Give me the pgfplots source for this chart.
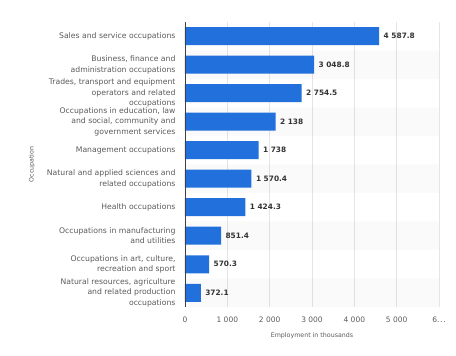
\documentclass[border=0pt]{standalone}
\usepackage{pgfplots}
\pgfplotsset{compat=1.18}
\usepackage{fontspec}
\setmainfont{DejaVu Sans}
\definecolor{barblue}{RGB}{33,112,219}
\definecolor{lbl}{RGB}{90,90,90}
\definecolor{vlbl}{RGB}{51,51,51}
\begin{document}
\begin{tikzpicture}
\useasboundingbox (0pt,0pt) rectangle (456pt,356pt);
\begin{axis}[
  at={(185pt,49pt)}, anchor=south west,
  scale only axis, width=254pt, height=285pt,
  xmin=0, xmax=6000, ymin=-0.5, ymax=9.5, y dir=reverse,
  xtick={0,1000,2000,3000,4000,5000,6000},
  xticklabels={0,1 000,2 000,3 000,4 000,5 000,{6.\kern0.1em.\kern0.1em.}},
  ytick={0,1,2,3,4,5,6,7,8,9},
  yticklabels={
    {Sales and service occupations},
    {Business, finance and\\administration occupations},
    {Trades, transport and equipment\\operators and related\\occupations},
    {Occupations in education, law\\and social, community and\\government services},
    {Management occupations},
    {Natural and applied sciences and\\related occupations},
    {Health occupations},
    {Occupations in manufacturing\\and utilities},
    {Occupations in art, culture,\\recreation and sport},
    {Natural resources, agriculture\\and related production\\occupations}},
  major tick length=0pt,
  xmajorgrids, grid style={draw=black!10, line width=0.6pt},
  axis line style={draw=none},
  x tick label style={font=\fontsize{7.5}{9}\selectfont, color=lbl, yshift=-6pt},
  y tick label style={font=\fontsize{7.7}{10.6}\selectfont, color=lbl, align=right, xshift=-6pt},
  xlabel={Employment in thousands},
  xlabel style={font=\fontsize{6.3}{8}\selectfont, color=lbl, yshift=-4pt},
  ylabel={Occupation},
  ylabel style={font=\fontsize{6.3}{8}\selectfont, color=lbl, yshift=5pt},
  clip=false,
]
\addplot[xbar, bar shift=0pt, bar width=28.5pt, fill=black, fill opacity=0.018, draw=none]
  coordinates {(6000,1) (6000,3) (6000,5) (6000,7) (6000,9)};
\addplot[xbar, bar shift=0pt, bar width=18pt, fill=barblue, draw=none,
  point meta=explicit symbolic,
  nodes near coords={\textbf{\pgfplotspointmeta}},
  nodes near coords style={anchor=west, font=\fontsize{7.4}{8}\selectfont, color=vlbl, xshift=1pt}]
  coordinates {
    (4587.8,0) [4 587.8]
    (3048.8,1) [3 048.8]
    (2754.5,2) [2 754.5]
    (2138,3) [2 138]
    (1738,4) [1 738]
    (1570.4,5) [1 570.4]
    (1424.3,6) [1 424.3]
    (851.4,7) [851.4]
    (570.3,8) [570.3]
    (372.1,9) [372.1]
  };
\draw[black!75, line width=0.8pt] (axis cs:0,-0.5) -- (axis cs:0,9.5);
\end{axis}
\end{tikzpicture}
\end{document}
